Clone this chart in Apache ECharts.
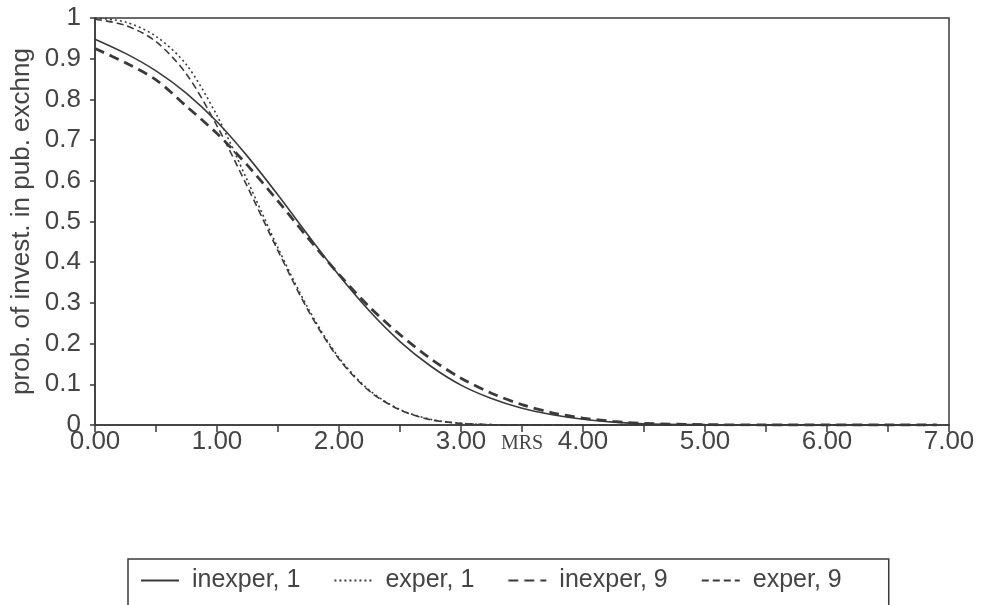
<!DOCTYPE html>
<html>
<head>
<meta charset="utf-8">
<script src="https://cdn.jsdelivr.net/npm/echarts@6/dist/echarts.min.js"></script>
<style>
html,body{margin:0;padding:0;background:#fff;}
#chart{width:987px;height:605px;}
</style>
</head>
<body>
<div id="chart"></div>
<script>
// MRS values (x)
const mrs = [0, 0.25, 0.5, 0.75, 1, 1.25, 1.5, 1.75, 2, 2.25, 2.5, 2.75, 3, 3.25, 3.5, 3.75, 4, 4.25, 4.5, 5, 5.5, 6, 6.5, 6.9];
// series values
const inexper1 = [0.948, 0.913, 0.87, 0.815, 0.745, 0.66, 0.565, 0.465, 0.368, 0.28, 0.205, 0.145, 0.098, 0.065, 0.041, 0.025, 0.014, 0.007, 0.003, 0.001, 0, 0, 0, 0];
const exper1 = [1.0, 0.99, 0.955, 0.885, 0.76, 0.6, 0.435, 0.285, 0.165, 0.085, 0.038, 0.014, 0.004, 0.001, 0, 0, 0, 0, 0, 0, 0, 0, 0, 0];
const inexper9 = [0.925, 0.89, 0.848, 0.783, 0.716, 0.638, 0.55, 0.458, 0.37, 0.29, 0.222, 0.163, 0.115, 0.078, 0.05, 0.03, 0.017, 0.009, 0.004, 0.001, 0, 0, 0, 0];
const exper9 = [0.997, 0.982, 0.942, 0.862, 0.735, 0.585, 0.428, 0.28, 0.162, 0.083, 0.037, 0.013, 0.004, 0.001, 0, 0, 0, 0, 0, 0, 0, 0, 0, 0];
const seriesNames = ['inexper, 1', 'exper, 1', 'inexper, 9', 'exper, 9'];
const xTicks = [0, 1, 2, 3, 4, 5, 6, 7];
const yTicks = [0, 0.1, 0.2, 0.3, 0.4, 0.5, 0.6, 0.7, 0.8, 0.9, 1];

const INK = '#3a3a3a';
const TXT = '#444';
const SANS = '"Liberation Sans", Arial, Helvetica, sans-serif';

function pairs(ys) { return mrs.map((x, i) => [x, ys[i]]); }

const chart = echarts.init(document.getElementById('chart'), null, {renderer: 'canvas'});

const lineStyles = [
  {width: 1.6, type: 'solid'},
  {width: 1.6, type: [2, 3]},
  {width: 2.8, type: [10, 6]},
  {width: 1.6, type: [7, 4]}
];
const dataSets = [inexper1, exper1, inexper9, exper9];

chart.setOption({
  animation: false,
  backgroundColor: '#fff',
  grid: {left: 95, top: 18, right: 38, bottom: 180, show: true, borderColor: INK, borderWidth: 1.5, backgroundColor: 'transparent'},
  xAxis: {
    type: 'value', min: xTicks[0], max: xTicks[xTicks.length - 1], interval: 1,
    name: 'MRS', nameLocation: 'middle', nameGap: 9, nameMoveOverlap: false,
    nameTextStyle: {fontFamily: '"Liberation Serif", "Times New Roman", serif', fontSize: 20, color: TXT, verticalAlign: 'top'},
    axisLine: {show: true, lineStyle: {color: INK, width: 1.5}},
    axisTick: {show: true, inside: false, length: 7, lineStyle: {color: INK, width: 1.5}},
    minorTick: {show: true, splitNumber: 2, length: 7, lineStyle: {color: INK, width: 1.5}},
    axisLabel: {fontSize: 26, fontFamily: SANS, color: TXT, margin: 4, formatter: v => v.toFixed(2)},
    splitLine: {show: false}
  },
  yAxis: {
    type: 'value', min: yTicks[0], max: yTicks[yTicks.length - 1], interval: 0.1,
    name: 'prob. of invest. in pub. exchng', nameLocation: 'middle', nameGap: 60, nameMoveOverlap: false,
    nameTextStyle: {fontFamily: SANS, fontSize: 26, color: TXT},
    axisLine: {show: true, lineStyle: {color: INK, width: 1.5}},
    axisTick: {show: true, inside: false, length: 5, lineStyle: {color: INK, width: 1.5}},
    axisLabel: {fontSize: 26, fontFamily: SANS, color: TXT, margin: 14,
      formatter: v => (Math.abs(v) < 1e-9 ? '0' : (Math.abs(v - 1) < 1e-9 ? '1' : v.toFixed(1)))},
    splitLine: {show: false}
  },
  legend: {
    show: true, left: 128, top: 559, orient: 'horizontal',
    padding: [9, 47, 40, 12],
    borderColor: INK, borderWidth: 1.5,
    itemWidth: 38, itemHeight: 10, itemGap: 33,
    itemStyle: {opacity: 0, borderWidth: 0},
    textStyle: {fontSize: 25, fontFamily: SANS, color: TXT, padding: [0, 0, 0, 8]},
    data: seriesNames
  },
  series: seriesNames.map((n, i) => ({
    name: n, type: 'line', data: pairs(dataSets[i]),
    showSymbol: false, symbol: 'none', smooth: 0.3,
    lineStyle: Object.assign({color: INK}, lineStyles[i]),
    itemStyle: {color: INK}
  }))
});
</script>
</body>
</html>
